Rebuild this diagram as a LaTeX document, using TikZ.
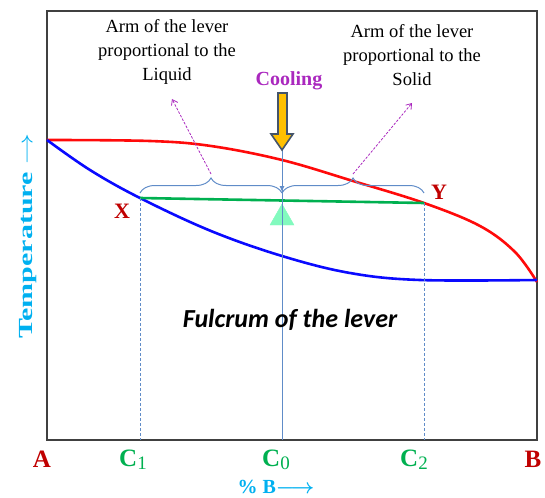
\documentclass[tikz,border=0pt]{standalone}
\usepackage{amsmath}
\usepackage{fontspec}
\setmainfont{Liberation Serif}
\newfontfamily\calfont{Carlito}
\usetikzlibrary{arrows.meta,positioning,decorations.pathreplacing}
\definecolor{frame}{RGB}{64,64,64}
\definecolor{liq}{RGB}{255,10,10}
\definecolor{sol}{RGB}{10,10,255}
\definecolor{tie}{RGB}{0,176,80}
\definecolor{steel}{RGB}{96,140,200}
\definecolor{plum}{RGB}{170,40,190}
\definecolor{darkred}{RGB}{192,0,0}
\definecolor{sky}{RGB}{0,176,240}
\definecolor{gold}{RGB}{255,192,0}
\definecolor{slate}{RGB}{68,84,106}
\definecolor{mint}{RGB}{130,250,190}
\tikzset{
  curve/.style={line width=2.6pt, line join=round},
  guide/.style={steel, line width=0.9pt, dash pattern=on 3pt off 2pt},
  armbrace/.style={steel, line width=1pt, decorate, decoration={brace, amplitude=15pt}},
  hint/.style={plum, line width=0.8pt, dash pattern=on 2.5pt off 1.5pt, -{Straight Barb[length=5pt,width=7pt]}},
  note/.style={align=center, font=\fontsize{18.5}{24}\selectfont},
  pt/.style={text=darkred, font=\bfseries\fontsize{22}{22}\selectfont},
  corner/.style={text=darkred, font=\bfseries\fontsize{25}{25}\selectfont},
  comp/.style={text=tie, inner sep=1pt, font=\bfseries\fontsize{25}{25}\selectfont},
  axis/.style={text=sky, inner sep=0pt, font=\bfseries\fontsize{20}{20}\selectfont},
}
\newcommand{\comp}[1]{C\raisebox{-0.25ex}{\mdseries\fontsize{19}{19}\selectfont #1}}

\begin{document}
\begin{tikzpicture}[x=1pt, y=-1pt]
  \useasboundingbox (0,0) rectangle (545,497);
  % frame
  \draw[frame, line width=1.8pt] (47,11) rectangle (537,440);
  \coordinate (X) at (140,198);
  \coordinate (Y) at (424,203);
  \coordinate (top) at (282,150);
  % curves
  \draw[curve, liq] plot[smooth, tension=0.6] coordinates
    {(47,140) (150,141) (211,146) (282,160) (353,181) (Y) (480,226) (515,252) (537,282)};
  \draw[curve, sol] plot[smooth, tension=0.6] coordinates
    {(47,140) (90,170) (X) (211,231) (282,256) (350,273) (420,280) (537,280)};
  % fulcrum
  \draw[mint, fill=mint] (282,204) -- (270,225) -- (294,225) -- cycle;
  \draw[curve, tie] (X) -- (Y);
  % guides
  \draw[guide] (X) -- (140,440);
  \draw[guide] (Y) -- (424,440);
  \draw[steel, line width=1pt] (top) -- (282,440);
  \draw[steel, line width=1pt, -{Latex[length=6pt,width=5pt]}] (top) -- (282,192);
  \draw[armbrace] (140,193) -- (282,193);
  \draw[armbrace] (282,193) -- (424,193);
  % cooling
  \draw[slate, fill=gold, line width=1.6pt, line join=miter]
    (278,93) -- (287,93) -- (287,134) -- (293,134) -- (top) -- (271,134) -- (278,134) -- cycle;
  \node[text=plum, font=\bfseries\fontsize{20}{20}\selectfont] (cool) at (289,81) {Cooling};
  % arms
  \node[note] (liqarm) at (167,52) {Arm of the lever\\proportional to the\\Liquid};
  \node[note] (solarm) at (412,55) {Arm of the lever\\proportional to the\\Solid};
  \draw[hint] (211,174) -- (172,99);
  \draw[hint] (353,174) -- (412,103);
  % labels
  \node[pt] (xl) at (122,211) {X};
  \node[pt] (yl) at (439,192) {Y};
  \node[corner] (a) at (42,459) {A};
  \node[corner] (b) at (533,459) {B};
  \node[comp] (c1) at (133,460) {\comp{1}};
  \node[comp] (c0) at (276,460) {\comp{0}};
  \node[comp] (c2) at (414,460) {\comp{2}};
  \node[axis] (pb) at (276,487) {\% B$\boldsymbol{\longrightarrow}$};
  \node[axis, rotate=90] (temp) at (28,236) {\scalebox{1.5}[1]{Temperature $\rightarrow$}};
  \node[font=\calfont\bfseries\itshape\fontsize{26}{26}\selectfont] (fulc) at (290,320) {Fulcrum of the lever};
\end{tikzpicture}
\end{document}
